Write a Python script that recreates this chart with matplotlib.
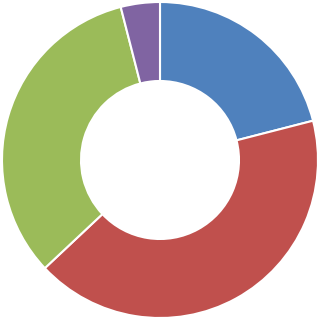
import matplotlib
matplotlib.use('Agg')
import matplotlib.pyplot as plt

# slice shares, clockwise from 12 o'clock
labels = ['A', 'B', 'C', 'D']
values = [21, 42, 33, 4]
colors = ['#4F81BD', '#C0504D', '#9BBB59', '#8064A2']

fig = plt.figure(figsize=(3.20, 3.21), dpi=100)
ax = fig.add_axes([0, 0, 1, 1])
ax.pie(values, colors=colors, startangle=90, counterclock=False,
       radius=1.0,
       wedgeprops=dict(width=0.5, edgecolor='white', linewidth=1.5))
ax.set_aspect('auto')
ax.set_xlim(-160 / 158, 160 / 158)
ax.set_ylim(-161 / 158, 160 / 158)
ax.axis('off')

fig.savefig('out.png', dpi=100, facecolor='white')
